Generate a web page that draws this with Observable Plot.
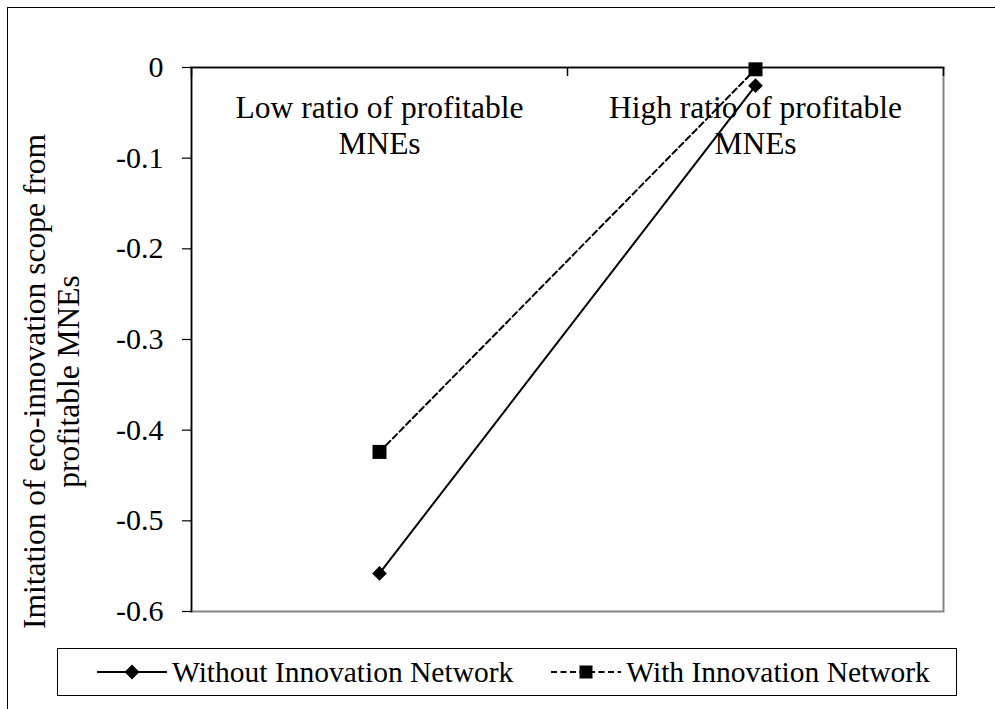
<!DOCTYPE html>
<html>
<head>
<meta charset="utf-8">
<script src="https://cdn.jsdelivr.net/npm/d3@7"></script>
<script src="https://cdn.jsdelivr.net/npm/@observablehq/plot@0.6"></script>
<style>
  html, body { margin: 0; padding: 0; background: #fff; }
  #wrap { position: relative; width: 995px; height: 709px; overflow: hidden; background: #fff; font-family: "Liberation Serif", "Times New Roman", serif; }
  #border { position: absolute; left: 7px; top: 7px; width: 1100px; height: 800px; border: 1px solid #000; box-sizing: border-box; }
  #chart { position: absolute; left: 0; top: 0; }
  #legend { position: absolute; left: 57px; top: 648px; width: 900px; height: 48px; border: 1px solid #000; box-sizing: border-box;
            display: flex; align-items: center; justify-content: flex-start; font-size: 29.5px; color: #000; padding-left: 39px; }
  .item { display: flex; align-items: center; white-space: nowrap; }
  .item svg { display: block; margin-right: 5px; }
  .item + .item { margin-left: 38px; }
</style>
</head>
<body>
<div id="wrap">
  <div id="border"></div>
  <div id="chart"></div>
  <div id="legend"></div>
</div>
<script>
// ---- data ----
const categories = ["Low ratio of profitable MNEs", "High ratio of profitable MNEs"];
const categoryLabels = ["Low ratio of profitable\nMNEs", "High ratio of profitable\nMNEs"];
const seriesNames = ["Without Innovation Network", "With Innovation Network"];
const withoutValues = [-0.558, -0.020];
const withValues = [-0.424, -0.002];
const yTicks = [0, -0.1, -0.2, -0.3, -0.4, -0.5, -0.6];
const yTitle = "Imitation of eco-innovation scope from\nprofitable MNEs";

// ---- build table ----
const rows = [];
categories.forEach((c, i) => {
  rows.push({series: seriesNames[0], category: c, value: withoutValues[i]});
  rows.push({series: seriesNames[1], category: c, value: withValues[i]});
});
const idx = d => categories.indexOf(d.category);
const withoutRows = rows.filter(d => d.series === seriesNames[0]);
const withRows = rows.filter(d => d.series === seriesNames[1]);
const boundaries = d3.range(categories.length + 1).map(i => i - 0.5);
const fmt = d => d === 0 ? "0" : d.toFixed(1);

const chart = Plot.plot({
  width: 995,
  height: 630,
  marginLeft: 191,
  marginRight: 52,
  marginTop: 67,
  marginBottom: 19,
  style: {fontFamily: "Liberation Serif, Times New Roman, serif", fontSize: "29px", color: "#000", background: "transparent", overflow: "visible"},
  x: {type: "linear", domain: [-0.5, categories.length - 0.5], axis: null},
  y: {domain: [-0.6, 0], axis: null},
  marks: [
    Plot.frame({stroke: "#868686", strokeWidth: 2}),
    Plot.frame({anchor: "left", stroke: "#000", strokeWidth: 1.5}),
    Plot.frame({anchor: "top", stroke: "#000", strokeWidth: 1.5}),
    Plot.axisY({ticks: yTicks, tickSize: 9, tickPadding: 19, tickFormat: fmt, fontSize: 30, label: null, stroke: "#000", strokeWidth: 1.2}),
    Plot.tickX(boundaries, {x: d => d, insetBottom: 535, stroke: "#000", strokeWidth: 1.5}),
    Plot.text(categoryLabels, {x: (d, i) => i, frameAnchor: "top", lineAnchor: "top", dy: 25, lineHeight: 1.15, fontSize: 31.5, fill: "#000"}),
    Plot.text([yTitle], {frameAnchor: "left", rotate: -90, dx: -140, dy: 42, lineHeight: 1.08, fontSize: 31.5, fill: "#000", textAnchor: "middle"}),
    Plot.line(withoutRows, {x: idx, y: "value", stroke: "#000", strokeWidth: 2}),
    Plot.line(withRows, {x: idx, y: "value", stroke: "#000", strokeWidth: 2, strokeDasharray: "6,3.5"}),
    Plot.dot(withoutRows, {x: idx, y: "value", symbol: "diamond2", r: 6.6, fill: "#000", stroke: "none"}),
    Plot.dot(withRows, {x: idx, y: "value", symbol: "square", r: 7.9, fill: "#000", stroke: "none"})
  ]
});
document.getElementById("chart").appendChild(chart);

// ---- legend ----
const legend = document.getElementById("legend");
seriesNames.forEach((name, i) => {
  const item = document.createElement("div");
  item.className = "item";
  const svg = d3.create("svg").attr("width", 70).attr("height", 20);
  svg.append("line").attr("x1", 0).attr("x2", 70).attr("y1", 10).attr("y2", 10)
    .attr("stroke", "#000").attr("stroke-width", 2).attr("stroke-dasharray", i === 1 ? "6,3.5" : null);
  if (i === 0) {
    svg.append("path").attr("d", d3.symbol(d3.symbolDiamond2, 140)()).attr("transform", "translate(35,10)").attr("fill", "#000");
  } else {
    svg.append("rect").attr("x", 28.5).attr("y", 3.5).attr("width", 13).attr("height", 13).attr("fill", "#000");
  }
  item.appendChild(svg.node());
  const span = document.createElement("span");
  span.textContent = name;
  item.appendChild(span);
  legend.appendChild(item);
});
</script>
</body>
</html>
